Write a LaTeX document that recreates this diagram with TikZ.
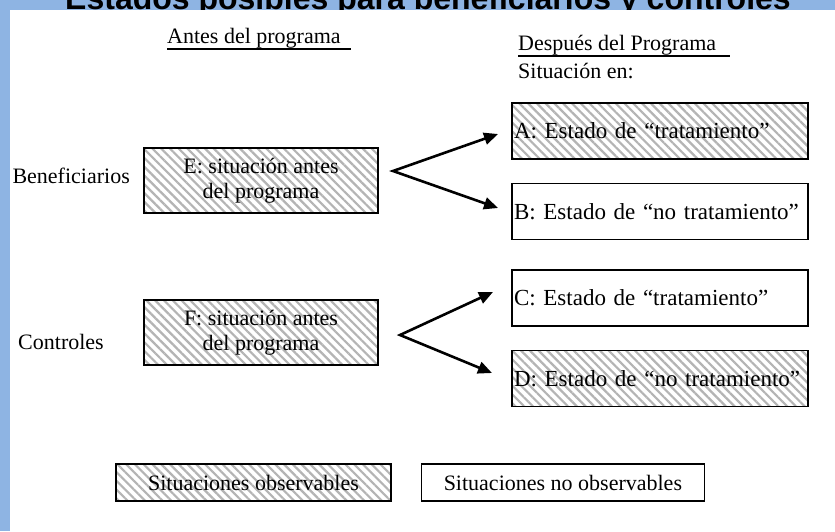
\documentclass[tikz,border=0pt]{standalone}
\usepackage{fontspec}
\setmainfont{Liberation Serif}
\newfontfamily\titlefont{Liberation Sans}
\usetikzlibrary{positioning}
\usetikzlibrary{arrows.meta}
\usetikzlibrary{patterns.meta}

\definecolor{frameblue}{RGB}{142,180,227}
\definecolor{hatchgray}{RGB}{180,180,180}

\tikzset{
  txt/.style={font=\fontsize{22}{25}\selectfont, inner sep=0pt},
  outcome/.style={txt, font=\fontsize{23}{26}\selectfont, draw, line width=1.4pt, minimum width=296pt, minimum height=56pt, text width=292pt, align=left},
  baseline/.style={txt, draw, line width=1.4pt, minimum width=234pt, minimum height=65pt, align=center},
  key/.style={txt, draw, line width=1.4pt, minimum height=37pt},
  hatch/.style={pattern={Lines[angle=-45,distance=6.2pt,line width=2.2pt]}, pattern color=hatchgray},
  fork/.style={line width=2.6pt, line join=miter, {Triangle[length=14pt,width=12pt]}-{Triangle[length=14pt,width=12pt]}},
}

\begin{document}
\begin{tikzpicture}[x=1pt, y=-1pt]

    % frame and title
    \useasboundingbox (0,0) rectangle (835,531) ; %
    \fill[frameblue] (0,0) rectangle (835,531) ; %
    \node[font=\titlefont\bfseries\fontsize{32}{36}\selectfont, anchor=base, inner sep=0pt] (title) at (428,9) {Estados posibles para beneficiarios y controles} ; %
    \fill[white] (10,10) rectangle (835,531) ; %

    % column headers
    \node[txt, anchor=base west] (antes) at (167,43) {Antes del programa} ; %
    \node[txt, anchor=base west] (despues) at (518,50) {Después del Programa} ; %
    \node[txt, anchor=base west] (situacion) at (518,78) {Situación en:} ; %
    \draw[line width=1.5pt] ([yshift=-6pt]antes.base west) -- ++(184,0) ; %
    \draw[line width=1.5pt] ([yshift=-6pt]despues.base west) -- ++(212,0) ; %

    % before the programme
    \node[baseline, hatch] (E) at (261,180.5) {E: situación antes\\del programa} ; %
    \node[baseline, hatch] (F) at (261,332.5) {F: situación antes\\del programa} ; %
    \node[txt, anchor=east] (benef) at (130,176) {Beneficiarios} ; %
    \node[txt, anchor=east] (contr) at (104,342) {Controles} ; %

    % after the programme
    \node[outcome, hatch] (A) at (660,131) {A: Estado de “tratamiento”} ; %
    \node[outcome, below=23pt of A] (B) {B: Estado de “no tratamiento”} ; %
    \node[outcome, below=29pt of B] (C) {C: Estado de “tratamiento”} ; %
    \node[outcome, hatch, below=23pt of C] (D) {D: Estado de “no tratamiento”} ; %

    \coordinate (E_split) at (393,171) ; %
    \coordinate (A_tip) at (498,134) ; %
    \coordinate (B_tip) at (498,208) ; %
    \coordinate (F_split) at (400,335) ; %
    \coordinate (C_tip) at (493,292) ; %
    \coordinate (D_tip) at (492,373) ; %

    \draw[fork] (A_tip) -- (E_split) -- (B_tip) ; %
    \draw[fork] (C_tip) -- (F_split) -- (D_tip) ; %

    % legend
    \node[key, hatch, minimum width=275pt] (obs) at (253.5,482.5) {Situaciones observables} ; %
    \node[key, minimum width=283pt, right=29pt of obs] (unobs) {Situaciones no observables} ; %

\end{tikzpicture}
\end{document}
